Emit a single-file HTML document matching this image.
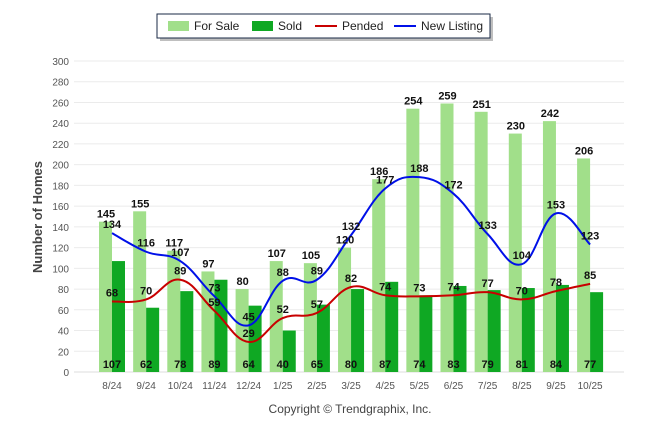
<!DOCTYPE html>
<html><head><meta charset="utf-8"><style>
body{margin:0;background:#fff;font-family:"Liberation Sans",sans-serif}
svg{display:block}
</style></head><body>
<svg id="c" width="646" height="434" viewBox="0 0 646 434">
<g>
<rect x="158" y="15" width="333" height="24" fill="#000" opacity="0.25" transform="translate(2,2)"/>
<rect x="157" y="14" width="333" height="24" fill="#fff" stroke="#1a2a44" stroke-width="1"/>
<rect x="168" y="21" width="21" height="10" fill="#a1df8a"/>
<text x="194" y="30" font-size="12" fill="#222">For Sale</text>
<rect x="252" y="21" width="21" height="10" fill="#0fa823"/>
<text x="278" y="30" font-size="12" fill="#222">Sold</text>
<line x1="315" y1="26" x2="337" y2="26" stroke="#c80000" stroke-width="2"/>
<text x="342" y="30" font-size="12" fill="#222">Pended</text>
<line x1="394" y1="26" x2="416" y2="26" stroke="#0010e8" stroke-width="2"/>
<text x="421" y="30" font-size="12" fill="#222">New Listing</text>
</g>
<g id="grid"></g>
<g id="bars"></g>
<g id="lines"></g>
<g id="labels"></g>
<text transform="translate(42,217) rotate(-90)" text-anchor="middle" font-size="13" font-weight="bold" fill="#444">Number of Homes</text>
<text x="350" y="413" text-anchor="middle" font-size="12" fill="#444">Copyright © Trendgraphix, Inc.</text>
</svg>
<script>
const categories=["8/24","9/24","10/24","11/24","12/24","1/25","2/25","3/25","4/25","5/25","6/25","7/25","8/25","9/25","10/25"];
const forSale=[145,155,117,97,80,107,105,120,186,254,259,251,230,242,206];
const sold=[107,62,78,89,64,40,65,80,87,74,83,79,81,84,77];
const pended=[68,70,89,59,29,52,57,82,74,73,74,77,70,78,85];
const newListing=[134,116,107,73,45,88,89,132,177,188,172,133,104,153,123];
const yTicks=[0,20,40,60,80,100,120,140,160,180,200,220,240,260,280,300];
const NS="http://www.w3.org/2000/svg";
const y=v=>372-v*(311/300);
const x=i=>112+i*34.15;
function mk(t,a,p){const e=document.createElementNS(NS,t);for(const k in a)e.setAttribute(k,a[k]);p.appendChild(e);return e;}
const grid=document.getElementById('grid'),bars=document.getElementById('bars'),lines=document.getElementById('lines'),labels=document.getElementById('labels');
yTicks.forEach(t=>{
 const l=mk('line',{x1:74,x2:624,y1:y(t),y2:y(t),stroke:t===0?'#ddd':'#ebebeb','stroke-width':1},grid);
 
 
 const tx=mk('text',{x:69,y:y(t)+4,'text-anchor':'end','font-size':10,fill:'#555'},grid);
 tx.textContent=t;
 
 
});
categories.forEach((c,i)=>{
 const tx=mk('text',{x:x(i),y:389,'text-anchor':'middle','font-size':10,fill:'#555'},grid);
 tx.textContent=c;
 
 
 const b1=mk('rect',{x:x(i)-13,y:y(forSale[i]),width:13,height:y(0)-y(forSale[i]),fill:'#a1df8a'},bars);
 
 
 const b2=mk('rect',{x:x(i),y:y(sold[i]),width:13,height:y(0)-y(sold[i]),fill:'#0fa823'},bars);
 
 
 const l1=mk('text',{x:x(i)-6,y:y(forSale[i])-4,'text-anchor':'middle','font-size':11,'font-weight':'bold',fill:'#111'},labels);
 l1.textContent=forSale[i];
 
 
 const l2=mk('text',{x:x(i),y:368,'text-anchor':'middle','font-size':11,'font-weight':'bold',fill:'#111'},labels);
 l2.textContent=sold[i];
 
 
});
function path(arr){
 const p=arr.map((v,i)=>[x(i),y(v)]);
 let d='M'+p[0][0]+','+p[0][1];
 for(let i=0;i<p.length-1;i++){
  const p0=p[Math.max(i-1,0)],p1=p[i],p2=p[i+1],p3=p[Math.min(i+2,p.length-1)];
  const t=0.2;
  d+=' C'+(p1[0]+(p2[0]-p0[0])*t)+','+(p1[1]+(p2[1]-p0[1])*t)+' '+(p2[0]-(p3[0]-p1[0])*t)+','+(p2[1]-(p3[1]-p1[1])*t)+' '+p2[0]+','+p2[1];
 }
 return d;
}
const pl=mk('path',{d:path(pended),fill:'none',stroke:'#c80000','stroke-width':2},lines);


const nl=mk('path',{d:path(newListing),fill:'none',stroke:'#0010e8','stroke-width':2},lines);


[[pended,'pended-value'],[newListing,'new-listing-value']].forEach(([arr,nm])=>{
 arr.forEach((v,i)=>{
  const t=mk('text',{x:x(i),y:y(v)-5,'text-anchor':'middle','font-size':11,'font-weight':'bold',fill:'#111'},labels);
  t.textContent=v;
  
  
 });
});
</script>
</body></html>
